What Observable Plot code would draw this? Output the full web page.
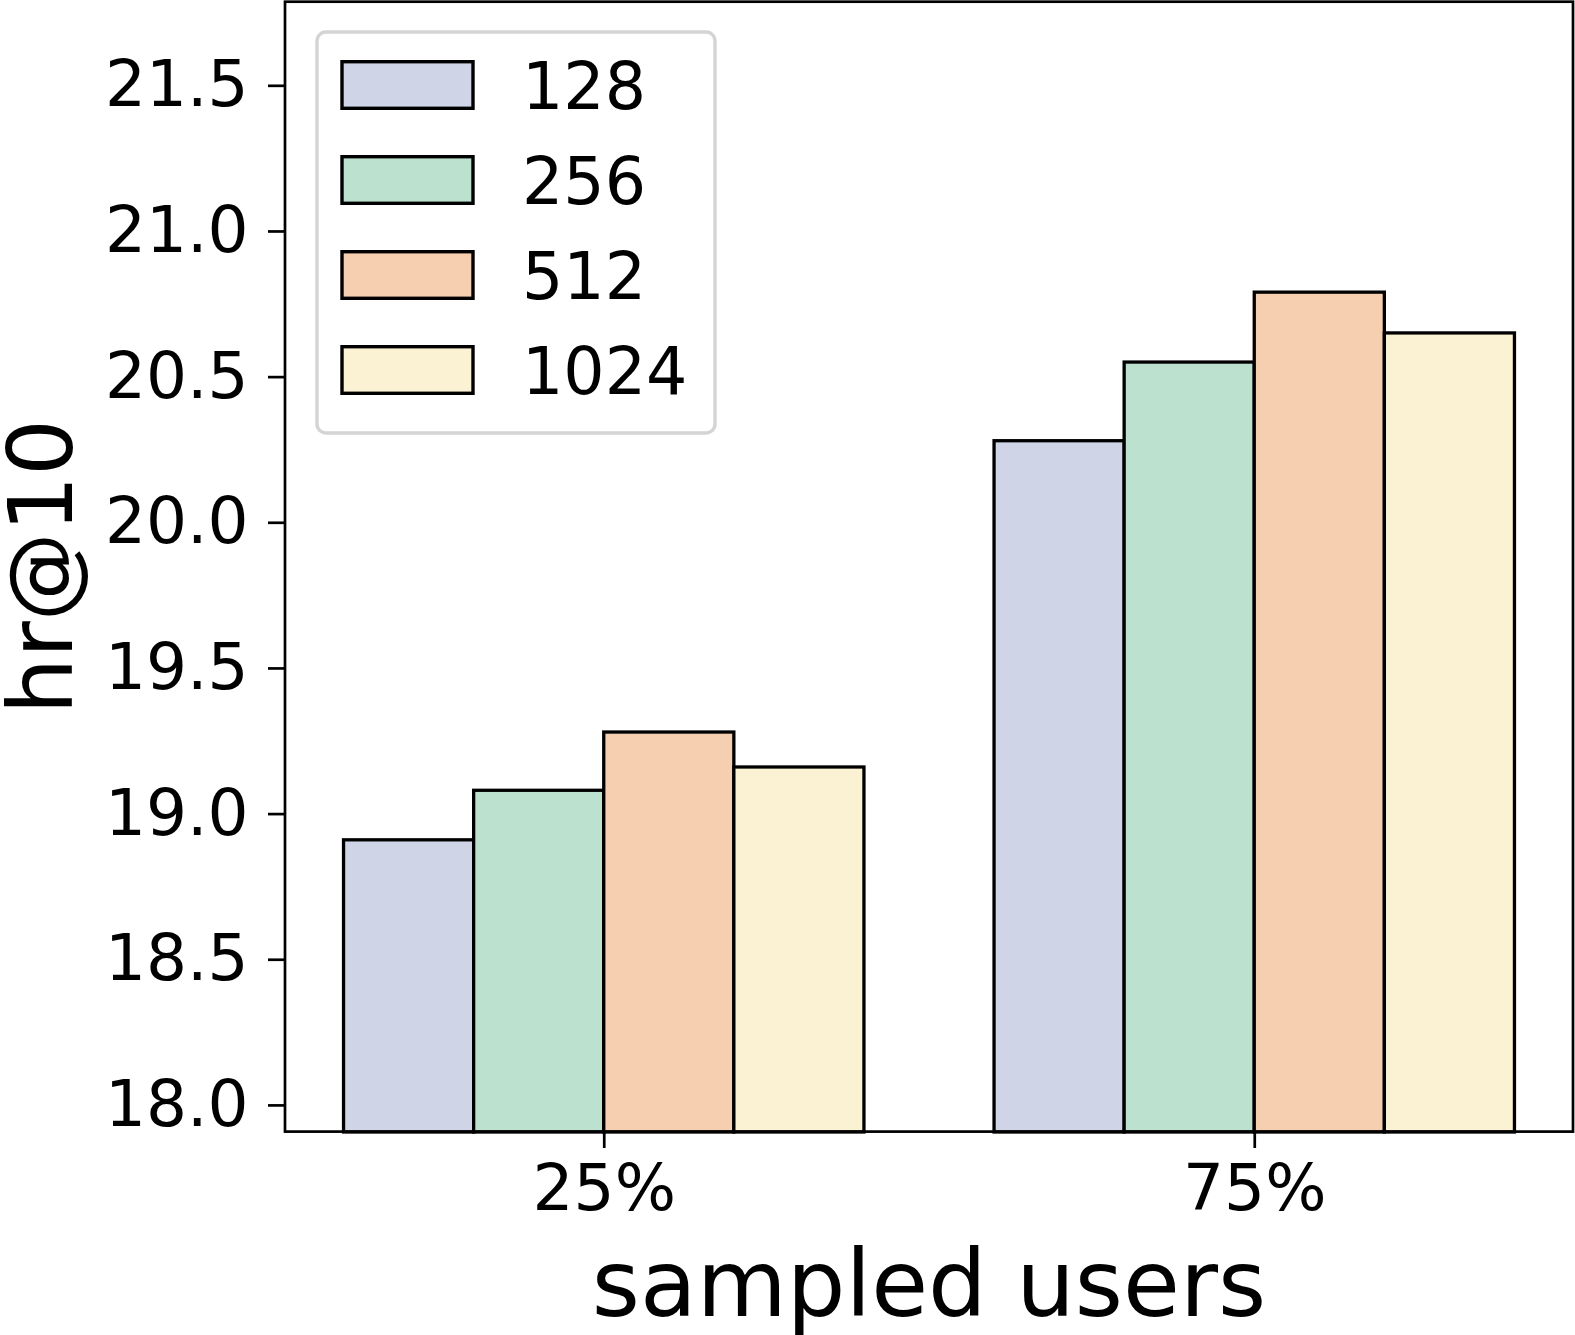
<!DOCTYPE html>
<html>
<head>
<meta charset="utf-8">
<script src="https://cdn.jsdelivr.net/npm/d3@7"></script>
<script src="https://cdn.jsdelivr.net/npm/@observablehq/plot@0.6"></script>
<style>
  html, body { margin: 0; padding: 0; background: white; }
  #chart { width: 1575px; height: 1335px; }
</style>
</head>
<body>
<div id="chart"></div>
<script>
// ---- data ----
const groups = ["25%", "75%"];
const sizes = ["128", "256", "512", "1024"];
const hr128 = [18.91, 20.28];
const hr256 = [19.08, 20.55];
const hr512 = [19.28, 20.79];
const hr1024 = [19.16, 20.65];
const colors = ["#cfd5e7", "#bce1cf", "#f6cfb1", "#fbf2d4"];
const yTicks = [18.0, 18.5, 19.0, 19.5, 20.0, 20.5, 21.0, 21.5];
const yDomain = [17.907, 21.786];
const yLabel = "hr@10";
const xLabel = "sampled users";

const series = [hr128, hr256, hr512, hr1024];
const data = groups.flatMap((g, i) => sizes.map((s, j) => ({group: g, size: s, value: series[j][i]})));

const W = 1575, H = 1335;
const mL = 285, mR = 2, mT = 2, mB = 203;

const plot = Plot.plot({
  width: W, height: H,
  marginLeft: mL, marginRight: mR, marginTop: mT, marginBottom: mB,
  style: {fontFamily: "DejaVu Sans", background: "white", color: "black", overflow: "visible"},
  fx: {domain: groups, paddingInner: 0.2, paddingOuter: 0.09, round: false, label: null},
  x: {domain: sizes, padding: 0, round: false, axis: null},
  y: {domain: yDomain},
  color: {domain: sizes, range: colors},
  marks: [
    Plot.barY(data, {fx: "group", x: "size", y1: yDomain[0], y2: "value", fill: "size", stroke: "black", strokeWidth: 3.3}),
    Plot.axisY({ticks: yTicks, tickFormat: d => d.toFixed(1), tickSize: 17, tickPadding: 20, fontSize: 64.5, strokeWidth: 2.7, label: null}),
    Plot.axisFx({anchor: "bottom", tickSize: 16, tickPadding: 16, fontSize: 64.5, strokeWidth: 2.7, label: null})
  ]
});

document.getElementById("chart").appendChild(plot);

const svg = d3.select(plot);

// move the y axis from the first facet's edge to the frame's left edge
const fxScale = plot.scale("fx");
const shift = mL - fxScale.apply(groups[0]);
svg.selectAll('[aria-label="y-axis tick"], [aria-label="y-axis tick label"]').each(function () {
  const t = this.getAttribute("transform") || "";
  this.setAttribute("transform", `translate(${shift},0) ${t}`);
});
svg.selectAll('[aria-label="y-axis tick"], [aria-label="fx-axis tick"]').attr("stroke-width", 2.7);

const frameTop = mT - 0.3, frameBottom = H - mB - 0.4;
// axes frame
svg.append("rect")
  .attr("x", mL).attr("y", frameTop)
  .attr("width", W - mL - mR).attr("height", frameBottom - frameTop)
  .attr("fill", "none").attr("stroke", "black").attr("stroke-width", 2.7);

// axis labels
svg.append("text")
  .attr("transform", `translate(72,${(frameTop + frameBottom) / 2}) rotate(-90)`)
  .attr("text-anchor", "middle")
  .attr("font-size", 89)
  .attr("fill", "black")
  .text(yLabel);
svg.append("text")
  .attr("x", (mL + W - mR) / 2).attr("y", 1316)
  .attr("text-anchor", "middle")
  .attr("font-size", 92.5)
  .attr("fill", "black")
  .text(xLabel);

// legend
const color = plot.scale("color");
const lg = svg.append("g");
lg.append("rect")
  .attr("x", 317).attr("y", 32).attr("width", 398).attr("height", 401)
  .attr("rx", 9).attr("ry", 9)
  .attr("fill", "white").attr("fill-opacity", 0.8)
  .attr("stroke", "#d4d4d4").attr("stroke-width", 3.4);
color.domain.forEach((s, i) => {
  const cy = 85 + i * 95;
  lg.append("rect")
    .attr("x", 342).attr("y", cy - 23.3).attr("width", 131).attr("height", 46.6)
    .attr("fill", color.apply(s)).attr("stroke", "black").attr("stroke-width", 3.4);
  lg.append("text")
    .attr("x", 522).attr("y", cy + 23.5)
    .attr("text-anchor", "start")
    .attr("font-size", 65)
    .attr("fill", "black")
    .text(s);
});
</script>
</body>
</html>
